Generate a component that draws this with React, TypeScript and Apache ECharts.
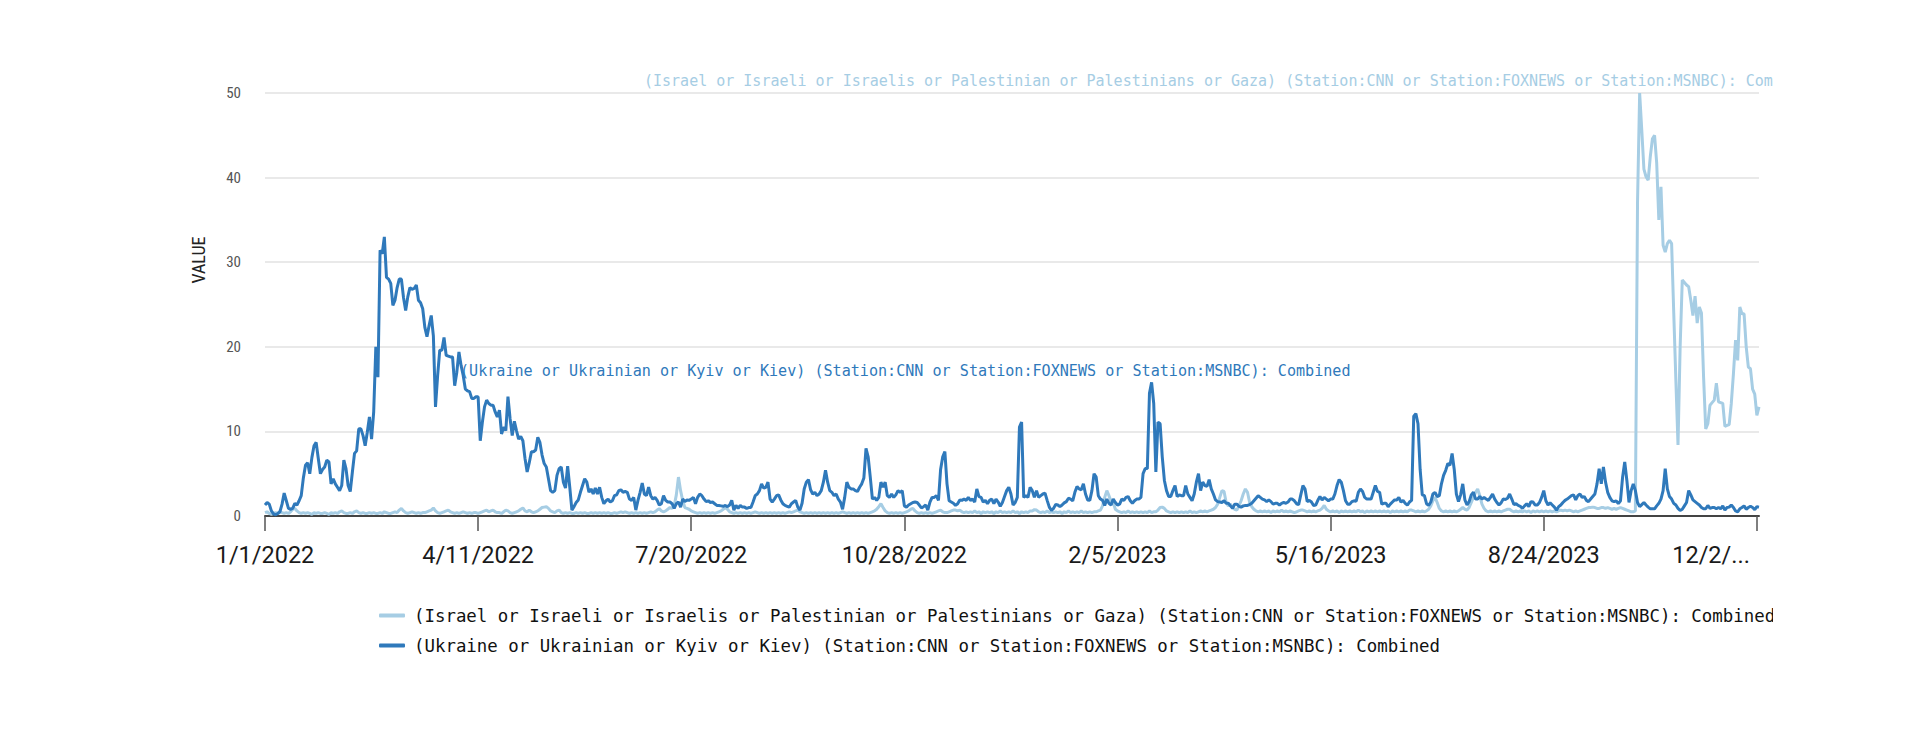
import { useEffect, useRef } from "react";
import * as echarts from "echarts";

const SERIES_NAMES = [
  "(Israel or Israeli or Israelis or Palestinian or Palestinians or Gaza) (Station:CNN or Station:FOXNEWS or Station:MSNBC): Combined",
  "(Ukraine or Ukrainian or Kyiv or Kiev) (Station:CNN or Station:FOXNEWS or Station:MSNBC): Combined",
];
const SERIES_COLORS = ["#a6cde4", "#2f79bb"];
const Y_MIN = 0;
const Y_MAX = 50;
const Y_STEP = 10;
const LABEL_EVERY = 100;

const ISRAEL = [
  0.4, 0.5, 0.3, 0.2, 0.3, 0.4, 0.3, 0.5, 0.4, 0.3,
  0.4, 0.3, 0.5, 0.8, 0.9, 0.6, 0.4, 0.3, 0.4, 0.3,
  0.4, 0.3, 0.2, 0.4, 0.3, 0.4, 0.3, 0.3, 0.4, 0.3,
  0.2, 0.4, 0.3, 0.4, 0.3, 0.5, 0.6, 0.4, 0.3, 0.3,
  0.4, 0.3, 0.5, 0.6, 0.4, 0.3, 0.4, 0.3, 0.3, 0.4,
  0.3, 0.4, 0.3, 0.3, 0.4, 0.3, 0.5, 0.4, 0.3, 0.3,
  0.4, 0.5, 0.4, 0.7, 0.9, 0.6, 0.4, 0.3, 0.4, 0.5,
  0.4, 0.3, 0.4, 0.3, 0.4, 0.4, 0.5, 0.6, 0.7, 0.95,
  0.6, 0.4, 0.3, 0.4, 0.5, 0.6, 0.7, 0.5, 0.4, 0.3,
  0.4, 0.3, 0.4, 0.5, 0.4, 0.3, 0.4, 0.3, 0.4, 0.4,
  0.3, 0.4, 0.5, 0.6, 0.7, 0.5, 0.6, 0.7, 0.5, 0.4,
  0.4, 0.3, 0.5, 0.7, 0.6, 0.4, 0.3, 0.4, 0.5, 0.6,
  0.8, 0.95, 0.6, 0.5, 0.7, 0.5, 0.4, 0.5, 0.6, 0.8,
  1.0, 1.05, 1.1, 0.9, 0.6, 0.5, 0.4, 0.6, 0.7, 0.4,
  0.3, 0.4, 0.3, 0.4, 0.3, 0.3, 0.4, 0.3, 0.4, 0.3,
  0.4, 0.3, 0.3, 0.4, 0.3, 0.4, 0.3, 0.4, 0.3, 0.4,
  0.3, 0.4, 0.3, 0.3, 0.4, 0.3, 0.4, 0.5, 0.4, 0.5,
  0.4, 0.3, 0.4, 0.3, 0.4, 0.3, 0.4, 0.3, 0.4, 0.3,
  0.4, 0.5, 0.4, 0.5, 0.7, 0.87, 0.6, 0.5, 0.6, 0.8,
  1.0, 0.9, 1.2, 2.5, 4.6, 3.0, 1.8, 1.0, 0.9, 0.8,
  0.6, 0.5, 0.4, 0.3, 0.4, 0.3, 0.4, 0.3, 0.4, 0.3,
  0.4, 0.3, 0.4, 0.5, 0.6, 0.8, 1.0, 0.8, 0.5, 0.4,
  0.3, 0.4, 0.3, 0.4, 0.3, 0.4, 0.3, 0.4, 0.3, 0.4,
  0.5, 0.4, 0.3, 0.4, 0.3, 0.4, 0.3, 0.4, 0.3, 0.4,
  0.3, 0.4, 0.3, 0.4, 0.3, 0.4, 0.5, 0.4, 0.5, 0.6,
  0.7, 0.5, 0.4, 0.3, 0.4, 0.3, 0.4, 0.3, 0.4, 0.3,
  0.4, 0.3, 0.4, 0.3, 0.4, 0.3, 0.4, 0.3, 0.4, 0.3,
  0.4, 0.5, 0.4, 0.3, 0.4, 0.3, 0.4, 0.3, 0.4, 0.3,
  0.4, 0.3, 0.4, 0.3, 0.4, 0.5, 0.6, 0.8, 1.1, 1.45,
  1.0, 0.6, 0.4, 0.3, 0.4, 0.3, 0.4, 0.3, 0.4, 0.3,
  0.4, 0.5, 0.6, 0.8, 0.9, 0.6, 0.4, 0.3, 0.4, 0.3,
  0.4, 0.3, 0.4, 0.3, 0.4, 0.5, 0.6, 0.7, 0.5, 0.4,
  0.4, 0.5, 0.6, 0.7, 0.7, 0.6, 0.7, 0.5, 0.4, 0.5,
  0.4, 0.5, 0.4, 0.6, 0.4, 0.5, 0.3, 0.5, 0.4, 0.5,
  0.4, 0.5, 0.3, 0.5, 0.4, 0.6, 0.4, 0.5, 0.4, 0.5,
  0.4, 0.6, 0.4, 0.5, 0.3, 0.5, 0.4, 0.5, 0.4, 0.6,
  0.6, 0.75, 0.7, 0.5, 0.4, 0.5, 0.4, 0.6, 0.4, 0.5,
  0.4, 0.5, 0.4, 0.5, 0.3, 0.5, 0.4, 0.6, 0.4, 0.5,
  0.4, 0.5, 0.4, 0.6, 0.4, 0.5, 0.4, 0.5, 0.4, 0.5,
  0.5, 0.6, 0.7, 1.2, 2.2, 3.0, 2.4, 1.7, 1.6, 0.8,
  0.6, 0.5, 0.4, 0.5, 0.4, 0.6, 0.4, 0.5, 0.4, 0.5,
  0.4, 0.5, 0.4, 0.5, 0.4, 0.6, 0.4, 0.5, 0.5, 0.7,
  1.0, 1.05, 0.9, 0.6, 0.5, 0.4, 0.5, 0.4, 0.5, 0.4,
  0.5, 0.4, 0.5, 0.4, 0.6, 0.4, 0.5, 0.4, 0.5, 0.6,
  0.5, 0.6, 0.5, 0.6, 0.7, 0.8, 1.0, 1.4, 2.2, 3.0,
  2.9, 1.6, 1.2, 1.4, 1.0, 0.8, 0.7, 1.2, 1.8, 2.6,
  3.2, 2.8, 1.6, 1.1, 0.8, 0.6, 0.5, 0.6, 0.5, 0.6,
  0.5, 0.6, 0.4, 0.6, 0.5, 0.6, 0.5, 0.7, 0.5, 0.6,
  0.5, 0.6, 0.5, 0.4, 0.5, 0.6, 0.7, 0.7, 0.6, 0.5,
  0.6, 0.5, 0.6, 0.5, 0.6, 0.7, 0.9, 1.25, 0.8, 0.6,
  0.5, 0.6, 0.5, 0.6, 0.4, 0.6, 0.5, 0.6, 0.5, 0.6,
  0.5, 0.6, 0.5, 0.7, 0.5, 0.6, 0.4, 0.6, 0.5, 0.6,
  0.5, 0.6, 0.5, 0.6, 0.5, 0.6, 0.5, 0.6, 0.4, 0.6,
  0.5, 0.6, 0.5, 0.6, 0.5, 0.6, 0.5, 0.7, 0.7, 0.6,
  0.5, 0.6, 0.5, 0.6, 0.5, 0.6, 0.8, 1.2, 1.8, 2.2,
  1.6, 0.9, 0.6, 0.5, 0.6, 0.5, 0.6, 0.5, 0.6, 0.5,
  0.6, 0.8, 1.0, 0.8, 0.7, 1.0, 1.6, 2.2, 2.8, 3.2,
  2.4, 1.4, 0.9, 0.6, 0.5, 0.6, 0.5, 0.6, 0.5, 0.6,
  0.5, 0.6, 0.7, 0.8, 0.8, 0.6, 0.5, 0.6, 0.5, 0.6,
  0.5, 0.6, 0.5, 0.6, 0.4, 0.6, 0.5, 0.6, 0.5, 0.6,
  0.5, 0.6, 0.5, 0.6, 0.5, 0.6, 0.5, 0.6, 0.7, 0.6,
  0.7, 0.6, 0.7, 0.6, 0.5, 0.6, 0.5, 0.6, 0.7, 0.8,
  0.9, 1.0, 1.0, 1.05, 1.0, 0.9, 0.9, 1.0, 1.0, 0.9,
  1.0, 0.9, 0.8, 0.9, 0.8, 0.9, 1.0, 0.9, 0.8, 0.7,
  0.6, 0.5, 0.5, 0.6, 37, 50, 45.6, 41, 40.1, 39.7,
  42.5, 44.6, 45, 41.7, 35, 38.9, 32, 31.2, 32.2, 32.6,
  32.2, 24, 16, 8.4, 20, 27.9, 27.6, 27.3, 27.1, 25.5,
  23.7, 26, 22.8, 24.7, 24, 16.4, 10.3, 10.9, 13.1, 13.4,
  13.7, 15.7, 13.5, 13.4, 13.3, 10.6, 10.7, 10.8, 13.3, 16.8,
  20.8, 18.4, 24.7, 23.9, 23.9, 20, 17.6, 17.4, 15, 14.4,
  11.9, 12.9,
];

const UKRAINE = [
  1.3, 1.6, 1.4, 0.6, 0.25, 0.15, 0.3, 0.5, 1.4, 2.7,
  1.8, 0.9, 0.8, 0.9, 1.5, 1.3, 1.8, 2.4, 4.5, 6.0,
  6.3, 5.0, 6.9, 8.3, 8.7, 6.8, 5.0, 5.5, 5.8, 6.6,
  6.4, 3.8, 4.4, 3.8, 3.4, 3.0, 3.6, 6.6, 5.6, 3.6,
  2.9, 5.2, 7.4, 7.7, 10.3, 10.3, 9.5, 8.3, 9.9, 11.7,
  9.1, 12.3, 20, 16.4, 31.4, 31.0, 33, 28.2, 28, 27.5,
  24.9, 25.5, 27, 28, 28, 25.8, 24.3, 25.9, 27, 26.8,
  26.9, 27.3, 25.5, 25.2, 24.5, 22.3, 21.2, 22.5, 23.7, 21.3,
  12.9, 16.6, 19.6, 19.6, 21.1, 19, 18.9, 18.8, 18.8, 15.4,
  17, 19.4, 17.8, 16.6, 15, 14.8, 14.7, 13.9, 13.9, 14.1,
  14.1, 8.9, 11.1, 12.9, 13.7, 13.3, 13.1, 13.1, 12.3, 11.7,
  12.5, 9.7, 10.5, 10.1, 14.1, 11.5, 9.5, 11.2, 10.1, 9.1,
  9.4, 8.9, 6.8, 5.2, 6.3, 7.6, 7.6, 7.8, 9.3, 8.7,
  7.2, 6.2, 5.8, 4.4, 3.0, 2.8, 3.0, 4.8, 5.6, 5.8,
  4.0, 3.3, 5.9, 3.4, 0.7, 1.1, 1.6, 1.9, 2.8, 3.6,
  4.4, 4.0, 2.8, 3.2, 2.6, 3.3, 2.6, 3.4, 2.2, 1.45,
  1.8, 2.0, 1.65, 1.8, 2.4, 2.5, 3.0, 3.1, 2.8, 2.9,
  2.8, 2.0, 1.85, 2.2, 0.7, 1.85, 2.8, 3.9, 2.6, 2.4,
  3.4, 2.4, 2.0, 2.2, 1.85, 1.3, 1.45, 2.4, 1.85, 1.65,
  1.65, 1.45, 0.9, 1.45, 1.65, 1.05, 2.0, 1.7, 1.9, 1.85,
  2.0, 2.2, 1.45, 2.2, 2.6, 2.4, 2.0, 1.7, 1.8, 1.6,
  1.65, 1.45, 1.25, 1.25, 1.2, 1.15, 1.25, 1.1, 1.3, 1.85,
  0.7, 1.25, 0.9, 1.25, 1.05, 1.05, 0.9, 1.0, 1.0, 1.65,
  2.4, 2.6, 3.0, 3.8, 3.3, 3.4, 4.0, 2.0, 1.65, 2.0,
  2.4, 2.5, 1.9, 1.45, 1.25, 1.15, 1.05, 1.45, 1.65, 1.85,
  1.05, 0.7, 1.5, 3.2, 4.0, 4.3, 3.1, 2.6, 2.8, 2.4,
  2.6, 3.0, 4.0, 5.4, 4.0, 3.0, 2.8, 2.4, 2.6, 2.0,
  1.65, 0.8, 2.2, 4.0, 3.4, 3.2, 3.2, 3.0, 2.9, 3.4,
  3.8, 4.5, 8.0, 7.0, 4.6, 2.0, 2.2, 1.85, 2.2, 4.0,
  3.4, 4.0, 2.4, 2.2, 2.6, 2.2, 2.5, 3.0, 2.8, 3.0,
  1.2, 1.05, 1.3, 1.45, 1.6, 1.65, 1.6, 1.3, 0.95, 1.1,
  1.3, 0.7, 1.65, 2.2, 2.2, 2.4, 1.85, 5.5, 7.0, 7.6,
  3.8, 1.8, 1.65, 1.5, 1.25, 1.45, 1.9, 1.85, 2.0, 1.85,
  2.2, 1.85, 2.0, 1.65, 3.2, 2.3, 2.2, 1.65, 1.85, 1.45,
  1.85, 2.0, 1.45, 2.0, 1.65, 1.15, 1.6, 2.3, 3.0, 3.4,
  2.6, 1.3, 1.6, 2.2, 10.5, 11.1, 2.2, 2.4, 2.2, 3.4,
  3.0, 2.2, 3.0, 2.2, 2.4, 2.6, 2.7, 1.85, 1.05, 0.65,
  0.9, 1.35, 1.3, 1.1, 1.3, 1.55, 1.7, 2.1, 2.0, 1.8,
  2.8, 3.5, 3.2, 3.1, 3.8, 2.6, 1.9, 1.85, 3.0, 5.0,
  4.6, 2.4, 2.0, 1.85, 1.25, 2.0, 1.5, 1.3, 2.0, 1.6,
  1.3, 1.4, 2.0, 1.85, 2.2, 2.3, 1.8, 1.5, 1.8, 2.0,
  2.0, 2.2, 5.0, 5.6, 5.6, 14.5, 15.8, 13.3, 5.2, 11.1,
  10.9, 7.0, 4.2, 3.0, 2.3, 2.3, 3.0, 3.6, 2.3, 2.5,
  2.4, 2.4, 3.6, 2.6, 2.2, 1.8, 2.6, 4.0, 5.0, 3.0,
  4.0, 3.6, 3.5, 4.3, 3.2, 2.6, 1.9, 1.7, 1.65, 1.6,
  1.8, 1.5, 1.5, 1.2, 0.9, 1.4, 1.4, 1.15, 1.05, 1.2,
  1.25, 1.25, 1.35, 1.5, 1.8, 2.1, 2.4, 2.2, 2.0, 1.9,
  1.7, 1.9, 1.7, 1.4, 1.5, 1.5, 1.3, 1.5, 1.6, 1.5,
  1.65, 2.0, 2.0, 1.8, 1.45, 1.35, 2.5, 3.6, 3.2, 1.7,
  1.85, 1.65, 1.25, 1.3, 1.85, 2.3, 1.9, 2.2, 2.0, 1.8,
  2.0, 2.0, 2.6, 3.6, 4.3, 4.0, 3.0, 1.8, 1.4, 1.4,
  1.7, 1.8, 1.75, 2.8, 3.2, 2.9, 2.2, 2.0, 2.0, 2.0,
  2.8, 3.6, 2.9, 2.8, 1.4, 1.5, 1.5, 1.1, 1.4, 1.65,
  1.9, 1.9, 2.2, 1.65, 1.85, 1.5, 1.3, 1.65, 1.85, 11.8,
  12.1, 10.9, 5.5, 2.5, 2.4, 1.45, 1.25, 1.65, 2.6, 2.8,
  2.3, 2.4, 3.8, 4.8, 5.4, 6.2, 6.0, 7.4, 5.5, 2.6,
  1.7, 2.5, 3.8, 1.9, 1.3, 1.7, 2.5, 2.8, 2.0, 2.0,
  2.3, 2.0, 2.2, 2.0, 1.85, 2.2, 2.6, 2.0, 1.6, 1.3,
  1.55, 2.0, 1.95, 2.1, 2.6, 2.0, 1.35, 1.45, 1.25, 1.15,
  0.9, 1.2, 1.45, 1.1, 1.7, 1.65, 1.3, 1.3, 1.6, 2.2,
  3.0, 1.8, 1.3, 1.55, 1.3, 1.05, 0.7, 1.1, 1.3, 1.6,
  1.85, 2.0, 2.2, 2.4, 2.5, 1.9, 2.4, 2.6, 2.2, 2.3,
  1.85, 1.7, 2.0, 2.3, 2.6, 3.8, 5.6, 3.8, 5.8, 4.0,
  2.8, 2.2, 1.8, 1.7, 1.8, 1.45, 1.8, 4.6, 6.4, 4.2,
  1.6, 3.0, 3.8, 3.0, 1.6, 1.1, 1.35, 1.6, 1.3, 1.05,
  0.85, 0.85, 0.85, 1.2, 1.5, 2.0, 3.0, 5.6, 3.2, 2.3,
  2.0, 1.5, 1.3, 0.9, 0.65, 0.8, 1.2, 1.6, 3.0, 2.5,
  1.9, 1.7, 1.5, 1.3, 1.0, 0.85, 0.85, 1.25, 0.9, 1.0,
  1.0, 0.85, 1.0, 0.85, 1.2, 0.7, 1.0, 1.05, 1.3, 1.0,
  0.6, 0.5, 0.85, 1.0, 1.2, 0.8, 1.0, 1.15, 1.0, 0.75,
  1.1, 1.05,
];

function buildDates(count: number): string[] {
  const start = Date.UTC(2022, 0, 1);
  const out: string[] = [];
  for (let i = 0; i < count; i++) {
    const d = new Date(start + i * 86400000);
    out.push(`${d.getUTCMonth() + 1}/${d.getUTCDate()}/${d.getUTCFullYear()}`);
  }
  return out;
}

const DATES = buildDates(UKRAINE.length);
const TICK_FONT = "Roboto, 'Liberation Sans', sans-serif";
const NARROW_FONT = "'Roboto Condensed', 'Liberation Sans Narrow', 'DejaVu Sans Condensed', Roboto, sans-serif";
const LABEL_FONT = "'DejaVu Sans Mono', 'Liberation Mono', monospace";

export default function App() {
  const ref = useRef<HTMLDivElement>(null);

  useEffect(() => {
    if (!ref.current) return;
    const chart = echarts.init(ref.current, undefined, { renderer: "svg" });
    const lastLabeled = Math.floor((DATES.length - 1) / LABEL_EVERY) * LABEL_EVERY;
    chart.setOption({
      animation: false,
      grid: { left: 257, right: 14, top: 85, bottom: 216 },
      legend: {
        orient: "vertical",
        left: 366,
        top: 594,
        itemWidth: 26,
        itemHeight: 4,
        itemGap: 13,
        icon: "roundRect",
        data: SERIES_NAMES,
        textStyle: { fontSize: 17.4, color: "#111", fontFamily: LABEL_FONT, padding: [0, 0, 0, 4] },
      },
      xAxis: {
        type: "category",
        data: DATES,
        boundaryGap: false,
        axisLine: { lineStyle: { color: "#444", width: 2 } },
        axisTick: { interval: LABEL_EVERY - 1, length: 15, lineStyle: { color: "#555", width: 1.5 } },
        axisLabel: {
          interval: LABEL_EVERY - 1,
          margin: 27,
          fontSize: 23.5,
          color: "#1a1a1a",
          fontFamily: TICK_FONT,
          alignMaxLabel: "right",
          formatter: (v: string, i: number) => (i === lastLabeled ? "{last|" + v.slice(0, 5) + "...}" : v),
          rich: { last: { padding: [0, 7, 0, 0], fontSize: 23.5, fontFamily: TICK_FONT, color: "#1a1a1a" } },
        },
        splitLine: { show: false },
      },
      yAxis: {
        type: "value",
        min: Y_MIN,
        max: Y_MAX,
        interval: Y_STEP,
        axisLine: { show: false },
        axisTick: { show: false },
        axisLabel: { fontSize: 15, color: "#555", margin: 24, fontFamily: NARROW_FONT },
        splitLine: { lineStyle: { color: "#e2e2e2", width: 1.5 } },
      },
      graphic: [
        {
          type: "text",
          x: 190,
          y: 252,
          rotation: Math.PI / 2,
          z: 0,
          style: { text: "VALUE", align: "center", verticalAlign: "middle", fontSize: 18, fill: "#222", fontFamily: NARROW_FONT },
        },
        {
          type: "text",
          x: 636,
          y: 73,
          z: 0,
          style: { text: SERIES_NAMES[0], verticalAlign: "middle", fontSize: 15, fill: SERIES_COLORS[0], fontFamily: LABEL_FONT },
        },
        {
          type: "text",
          x: 452,
          y: 363,
          z: 0,
          style: { text: SERIES_NAMES[1], verticalAlign: "middle", fontSize: 15.1, fill: SERIES_COLORS[1], fontFamily: LABEL_FONT },
        },
      ],
      series: [
        {
          name: SERIES_NAMES[0],
          type: "line",
          data: ISRAEL,
          showSymbol: false,
          color: SERIES_COLORS[0],
          lineStyle: { width: 3, color: SERIES_COLORS[0] },
          z: 3,
        },
        {
          name: SERIES_NAMES[1],
          type: "line",
          data: UKRAINE,
          showSymbol: false,
          color: SERIES_COLORS[1],
          lineStyle: { width: 3, color: SERIES_COLORS[1] },
          z: 4,
        },
      ],
    });
    return () => chart.dispose();
  }, []);

  return <div ref={ref} style={{ width: 1765, height: 724 }} />;
}
